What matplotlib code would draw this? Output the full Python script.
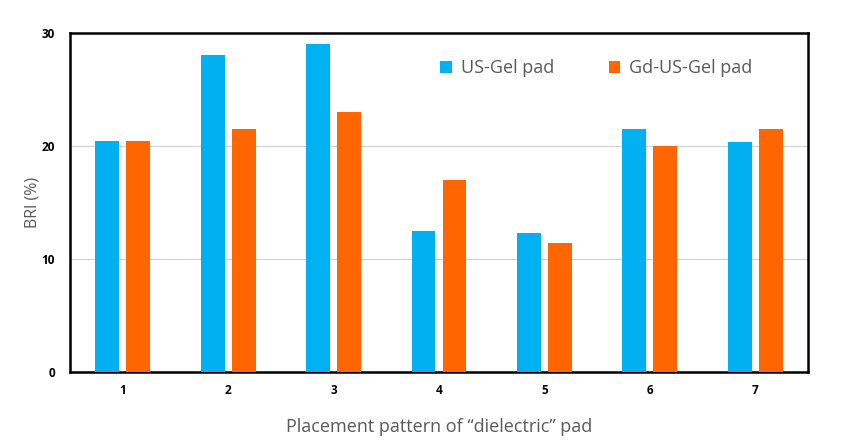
import numpy as np
import matplotlib.pyplot as plt

# data
patterns = ['1', '2', '3', '4', '5', '6', '7']
us_gel = [20.4, 28.0, 29.0, 12.5, 12.3, 21.5, 20.3]
gd_us_gel = [20.4, 21.5, 23.0, 17.0, 11.4, 20.0, 21.5]
series_names = ['US-Gel pad', 'Gd-US-Gel pad']
yticks = [0, 10, 20, 30]

plt.rcParams['font.family'] = ['Open Sans', 'DejaVu Sans']

fig = plt.figure(figsize=(8.45, 4.48), dpi=100)
ax = fig.add_axes([0.083, 0.170, 0.873, 0.757])

x = np.arange(len(patterns))
w = 0.227
off = 0.147
ax.bar(x - off, us_gel, w, color='#00B0F0', label=series_names[0], zorder=3)
ax.bar(x + off, gd_us_gel, w, color='#FF6600', label=series_names[1], zorder=3)

ax.set_xlim(-0.5, len(patterns) - 0.5)
ax.set_ylim(0, 30)
ax.set_yticks(yticks)
ax.set_xticks(x)
ax.set_xticklabels(patterns)
ax.yaxis.grid(True, color='#d0d0d0', linewidth=0.8, zorder=0)
ax.tick_params(length=0, labelsize=8.5, colors='black')
ax.tick_params(axis='x', pad=9)
ax.tick_params(axis='y', pad=11)
for lab in ax.get_xticklabels() + ax.get_yticklabels():
    lab.set_fontweight('bold')
for s in ax.spines.values():
    s.set_linewidth(1.8)
    s.set_color('black')

ax.set_ylabel('BRI (%)', fontsize=11.5, color='#595959')
ax.yaxis.set_label_coords(-0.04, 0.5)
ax.set_xlabel('Placement pattern of \u201cdielectric\u201d pad', fontsize=13, color='#595959')
ax.xaxis.set_label_coords(0.5, -0.135)

leg = ax.legend(loc='upper left', bbox_to_anchor=(0.48, 0.97), ncol=2, frameon=False,
                fontsize=13, handlelength=0.65, handleheight=0.65, columnspacing=3.0,
                handletextpad=0.5)
for t in leg.get_texts():
    t.set_color('#595959')

fig.savefig('out.png', dpi=100)
